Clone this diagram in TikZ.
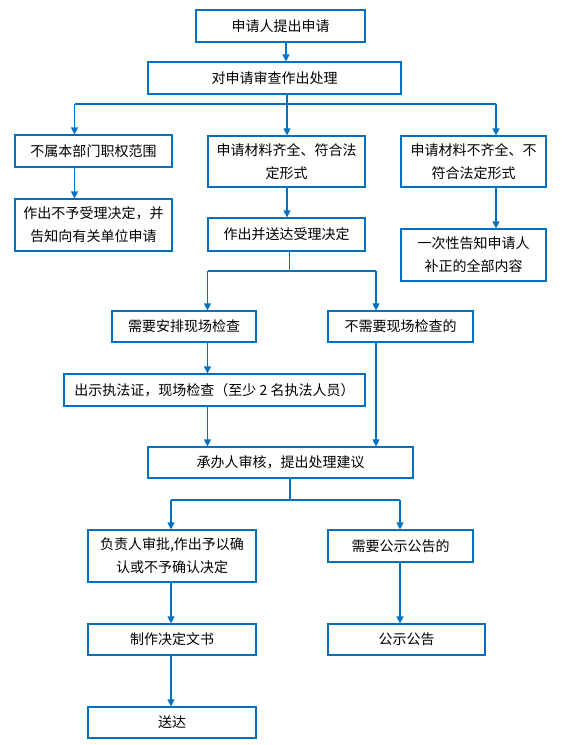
\documentclass[tikz,border=0pt]{standalone}
\usepackage{fontspec}
\setmainfont{Noto Sans CJK SC}
\usetikzlibrary{arrows.meta}
\definecolor{lineblue}{RGB}{0,112,192}
\begin{document}
\begin{tikzpicture}[x=1bp,y=-1bp,
  box/.style={draw=lineblue,line width=1.2bp,fill=white,inner sep=0pt,align=center,
    font=\fontsize{14bp}{23bp}\selectfont,text=black},
  conn/.style={draw=lineblue,line width=1.2bp},
  arr/.style={conn,-{Triangle[length=7bp,width=7bp]}}]
\useasboundingbox[fill=white] (0,0) rectangle (562,745);
% boxes
\node[box,minimum width=169bp,minimum height=32bp] (b1) at (280.5,26) {申请人提出申请};
\node[box,minimum width=253bp,minimum height=32bp] (b2) at (274.5,78) {对申请审查作出处理};
\node[box,minimum width=157bp,minimum height=32bp] (b3) at (93.5,151) {不属本部门职权范围};
\node[box,minimum width=157bp,minimum height=51bp] (b4) at (286.5,161.5) {申请材料齐全、符合法\\定形式};
\node[box,minimum width=145bp,minimum height=51bp] (b5) at (473.5,161.5) {申请材料不齐全、不\\符合法定形式};
\node[box,minimum width=157bp,minimum height=52bp] (b6) at (93.5,225) {作出不予受理决定，并\\告知向有关单位申请};
\node[box,minimum width=157bp,minimum height=33bp] (b7) at (286.5,234.5) {作出并送达受理决定};
\node[box,minimum width=145bp,minimum height=52bp] (b8) at (473.5,255) {一次性告知申请人\\补正的全部内容};
\node[box,minimum width=144bp,minimum height=31bp] (b9) at (184,326.5) {需要安排现场检查};
\node[box,minimum width=145bp,minimum height=31bp] (b10) at (400.5,326.5) {不需要现场检查的};
\node[box,minimum width=301bp,minimum height=32bp] (b11) at (214.5,390) {出示执法证，现场检查（至少 2 名执法人员）};
\node[box,minimum width=265bp,minimum height=31bp] (b12) at (280.5,462.5) {承办人审核，提出处理建议};
\node[box,minimum width=168bp,minimum height=52bp] (b13) at (172,556) {负责人审批,作出予以确\\认或不予确认决定};
\node[box,minimum width=145bp,minimum height=32bp] (b14) at (400.5,546) {需要公示公告的};
\node[box,minimum width=168bp,minimum height=31bp] (b15) at (172,639.5) {制作决定文书};
\node[box,minimum width=157bp,minimum height=31bp] (b16) at (406.5,639.5) {公示公告};
\node[box,minimum width=168bp,minimum height=31bp] (b17) at (172,722.5) {送达};
% guide coordinates
\coordinate (g1) at (286,0);
\coordinate (j1) at (287,104);
\coordinate (c3) at (74.5,104);
\coordinate (c5) at (496,104);
\coordinate (j2) at (289.5,271);
\coordinate (c9) at (207.5,271);
\coordinate (c10) at (376,271);
\coordinate (j3) at (290,500);
\coordinate (c13) at (171,500);
\coordinate (c14) at (400,500);
% connectors
\draw[arr] (b1.south -| g1) -- (b2.north -| g1);
\draw[conn] (b2.south -| j1) -- (j1);
\draw[conn] (c3) -- (c5);
\draw[arr] (c3) -- (b3.north -| c3);
\draw[arr] (j1) -- (b4.north -| j1);
\draw[arr] (c5) -- (b5.north -| c5);
\draw[arr] (b3.south -| c3) -- (b6.north -| c3);
\draw[arr] (b4.south -| j1) -- (b7.north -| j1);
\draw[arr] (b5.south -| c5) -- (b8.north -| c5);
\draw[conn] (b7.south -| j2) -- (j2);
\draw[conn] (c9) -- (c10);
\draw[arr] (c9) -- (b9.north -| c9);
\draw[arr] (c10) -- (b10.north -| c10);
\draw[arr] (b9.south -| c9) -- (b11.north -| c9);
\draw[arr] (b11.south -| c9) -- (b12.north -| c9);
\draw[arr] (b10.south -| c10) -- (b12.north -| c10);
\draw[conn] (b12.south -| j3) -- (j3);
\draw[conn] (c13) -- (c14);
\draw[arr] (c13) -- (b13.north -| c13);
\draw[arr] (c14) -- (b14.north -| c14);
\draw[arr] (b13.south -| c13) -- (b15.north -| c13);
\draw[arr] (b15.south -| c13) -- (b17.north -| c13);
\draw[arr] (b14.south -| c14) -- (b16.north -| c14);
\end{tikzpicture}
\end{document}
